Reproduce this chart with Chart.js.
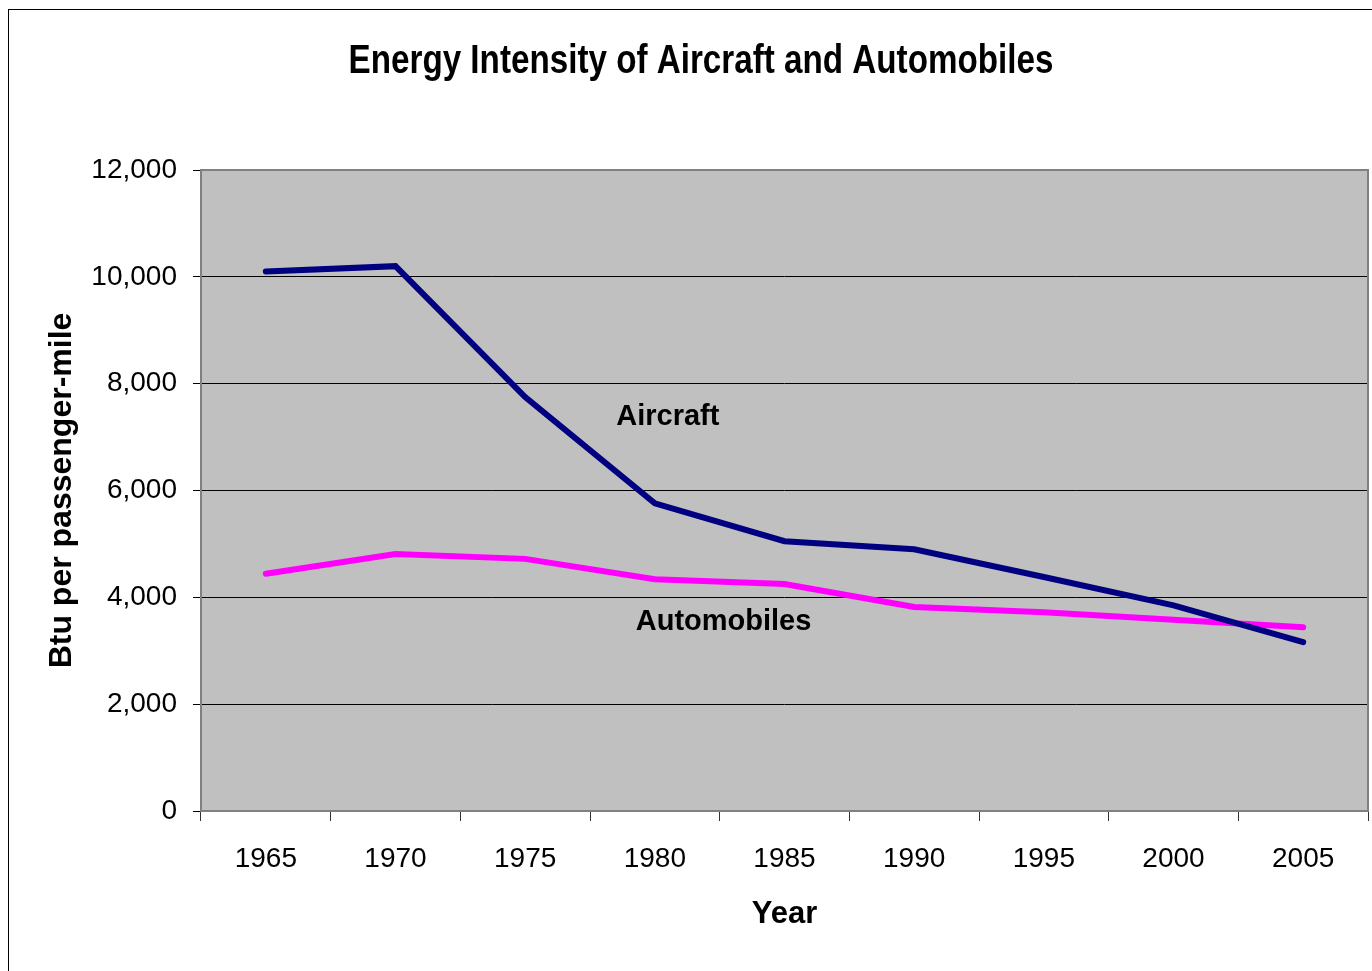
<!DOCTYPE html>
<html>
<head>
<meta charset="utf-8">
<script src="https://cdn.jsdelivr.net/npm/chart.js@4"></script>
<style>
    html, body { margin: 0; padding: 0; background: #fff; }
    canvas { display: block; }
</style>
</head>
<body>
<canvas id="chart" width="1372" height="971"></canvas>
<script>
// data
const years = ['1965', '1970', '1975', '1980', '1985', '1990', '1995', '2000', '2005'];
const aircraft = [10100, 10200, 7750, 5760, 5050, 4900, 4380, 3850, 3160];
const automobiles = [4440, 4810, 4720, 4340, 4250, 3820, 3720, 3580, 3440];
const yTicks = [0, 2000, 4000, 6000, 8000, 10000, 12000];

const chartTitle = 'Energy Intensity of Aircraft and Automobiles';

// series labels placed in data units (category index, value)
const seriesLabels = [
    { text: 'Aircraft', x: 3.10, y: 7380 },
    { text: 'Automobiles', x: 3.53, y: 3540 }
];

const plotFrame = {
    id: 'plotFrame',
    beforeDraw(chart) {
        const { ctx, chartArea: a } = chart;
        ctx.save();
        ctx.fillStyle = '#fff';
        ctx.fillRect(0, 0, chart.width, chart.height);
        // outer chart border (cut off right and bottom)
        ctx.strokeStyle = '#000';
        ctx.lineWidth = 1;
        ctx.strokeRect(8.5, 9.5, chart.width + 20, chart.height + 20);
        // plot area fill
        ctx.fillStyle = '#c0c0c0';
        ctx.fillRect(a.left, a.top, a.right - a.left, a.bottom - a.top);
        ctx.restore();
    },
    beforeDatasetsDraw(chart) {
        const { ctx, chartArea: a } = chart;
        ctx.save();
        ctx.strokeStyle = '#808080';
        ctx.lineWidth = 2;
        ctx.strokeRect(a.left, a.top, a.right - a.left, a.bottom - a.top);
        ctx.restore();
    },
    afterDatasetsDraw(chart) {
        const { ctx, scales } = chart;
        ctx.save();
        ctx.fillStyle = '#000';
        ctx.font = 'bold 29px "Liberation Sans", Arial, sans-serif';
        ctx.textAlign = 'center';
        ctx.textBaseline = 'middle';
        seriesLabels.forEach(l => {
            ctx.fillText(l.text, scales.x.getPixelForValue(l.x), scales.y.getPixelForValue(l.y));
        });
        ctx.restore();
    },
    afterDraw(chart) {
        // condensed bold title, like the original
        const { ctx } = chart;
        ctx.save();
        ctx.fillStyle = '#000';
        ctx.font = 'bold 41px "Liberation Sans", Arial, sans-serif';
        ctx.textAlign = 'center';
        ctx.textBaseline = 'alphabetic';
        ctx.translate(701, 73);
        ctx.scale(0.81, 1);
        ctx.fillText(chartTitle, 0, 0);
        ctx.restore();
    }
};

new Chart(document.getElementById('chart').getContext('2d'), {
    type: 'line',
    data: {
        labels: years,
        datasets: [{
            label: 'Aircraft',
            data: aircraft,
            borderColor: '#000080',
            borderWidth: 6,
            borderCapStyle: 'round',
            pointRadius: 0,
            tension: 0,
            fill: false
        }, {
            label: 'Automobiles',
            data: automobiles,
            borderColor: '#ff00ff',
            borderWidth: 6,
            borderCapStyle: 'round',
            pointRadius: 0,
            tension: 0,
            fill: false
        }]
    },
    options: {
        responsive: false,
        animation: false,
        layout: { padding: { left: 30, right: 4, top: 170, bottom: 20 } },
        plugins: {
            legend: { display: false },
            tooltip: { enabled: false },
            title: { display: false }
        },
        scales: {
            x: {
                offset: true,
                grid: {
                    offset: true,
                    drawOnChartArea: false,
                    color: '#333',
                    tickLength: 10
                },
                border: { display: false },
                ticks: {
                    color: '#000',
                    padding: 21,
                    maxRotation: 0,
                    font: { family: '"Liberation Sans", Arial', size: 28 }
                },
                title: {
                    display: true,
                    text: 'Year',
                    color: '#000',
                    font: { family: '"Liberation Sans", Arial', size: 31, weight: 'bold' },
                    padding: { top: 0, bottom: 18 }
                },
                afterFit(s) { s.height = 140; }
            },
            y: {
                min: 0,
                max: 12000,
                afterBuildTicks(s) { s.ticks = yTicks.map(v => ({ value: v })); },
                grid: {
                    color: '#000',
                    lineWidth: 1,
                    tickLength: 8
                },
                border: { display: false },
                ticks: {
                    color: '#000',
                    padding: 16,
                    font: { family: '"Liberation Sans", Arial', size: 28 },
                    callback: v => v.toLocaleString('en-US')
                },
                title: {
                    display: true,
                    text: 'Btu per passenger-mile',
                    color: '#000',
                    font: { family: '"Liberation Sans", Arial', size: 32, weight: 'bold' },
                    padding: { top: 13, bottom: 0 }
                },
                afterFit(s) { s.width = 171; }
            }
        }
    },
    plugins: [plotFrame]
});
</script>
</body>
</html>
